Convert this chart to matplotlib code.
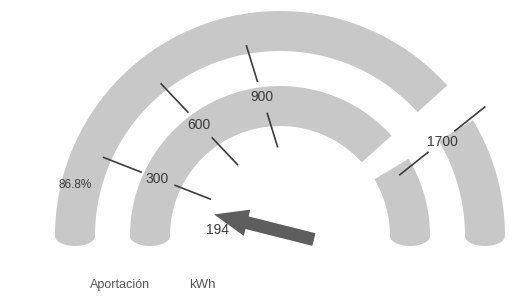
import numpy as np
import matplotlib
matplotlib.use("Agg")
import matplotlib.pyplot as plt

plt.rcParams['font.family'] = ['Liberation Sans', 'DejaVu Sans']

# gauge data
tick_values = [300, 600, 900, 1700]
tick_labels = ["300", "600", "900", "1700"]
needle_value = 194
needle_label = "194"
percent_label = "86.8%"
legend_labels = ["Aportación", "kWh"]

# value -> angle (degrees) of the dial scale
scale_values = [0, 900, 2080]
scale_degrees = [184, 100, 0]

band_color = "#c8c8c8"
line_color = "#3c3c3c"
text_color = "#3a3a3a"

cx, cy = 280, 236          # dial centre (pixel units)


def theta(v):
    return np.interp(v, scale_values, scale_degrees)


def pol(a, r, y0=0):
    a = np.radians(a)
    return cx + r * np.cos(a), cy - y0 - r * np.sin(a)


def band(ax, r_in, r_out, a0, a1):
    # arc from a0 to a1 (deg); rounded cap where the arc touches the baseline
    t = np.linspace(a0, a1, 120)
    ox, oy = pol(t, r_out)
    ix, iy = pol(t[::-1], r_in)
    xs, ys = list(ox), list(oy)
    half = (r_out - r_in) / 2
    phi = np.linspace(np.pi, 0, 40)
    if a1 >= 180:
        mx = cx - (r_in + r_out) / 2
        xs += list(mx + half * np.cos(phi))
        ys += list(cy + 10 * np.sin(phi))
    xs += list(ix)
    ys += list(iy)
    if a0 <= 0:
        mx = cx + (r_in + r_out) / 2
        xs += list(mx + half * np.cos(phi))
        ys += list(cy + 10 * np.sin(phi))
    ax.fill(xs, ys, color=band_color, lw=0, zorder=1)


fig = plt.figure(figsize=(5.09, 2.96), dpi=100)
ax = fig.add_axes([0, 0, 1, 1])
ax.set_xlim(0, 509)
ax.set_ylim(296, 0)
ax.axis("off")

# rings: long arc + short piece on the right
band(ax, 185, 225, 42, 180)
band(ax, 185, 225, 0, 31)
band(ax, 110, 150, 42, 180)
band(ax, 110, 150, 0, 31)

# tick lines, broken where the label sits
for v, lab in zip(tick_values, tick_labels):
    if v > 1000:
        r0, frac, pivot = 242, 0.525, (cx + 43, cy)
    else:
        r0, frac, pivot = 193, 0.53, (cx + 25, cy)
    x0, y0 = pol(theta(v), r0)
    x1 = x0 + frac * (pivot[0] - x0)
    y1 = y0 + frac * (pivot[1] - y0)
    for f0, f1 in [(0, 0.35), (0.67, 1)]:
        ax.plot([x0 + f0 * (x1 - x0), x0 + f1 * (x1 - x0)],
                [y0 + f0 * (y1 - y0), y0 + f1 * (y1 - y0)],
                color=line_color, lw=1.2, zorder=2)
    ax.text((x0 + x1) / 2, (y0 + y1) / 2 + 1, lab, fontsize=10,
            color=text_color, ha="center", va="center", zorder=3)

# percentage on the outer ring at the needle angle
px, py = pol(theta(needle_value), 211)
ax.text(px, py, percent_label, fontsize=8.5, color=text_color,
        ha="center", va="center", zorder=3)

# needle
a = theta(needle_value)
tx, ty = pol(a, -35, 5)
hx, hy = pol(a, 68, 5)
ax.arrow(tx, ty, hx - tx, hy - ty, width=13, head_width=27, head_length=34,
         length_includes_head=True, fc="#5e5e5e", ec="none", zorder=4)
ax.text(218, 230, needle_label, fontsize=10, color=text_color,
        ha="center", va="center", zorder=3)

# legend row
ax.text(90, 285, legend_labels[0], fontsize=9, color="#555555", va="center")
ax.text(189, 285, legend_labels[1], fontsize=9.5, color="#555555", va="center")

fig.savefig("out.png", dpi=100)
